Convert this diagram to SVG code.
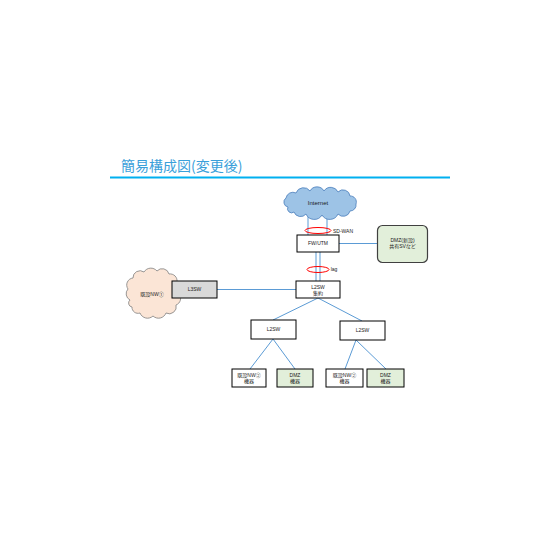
<svg xmlns="http://www.w3.org/2000/svg" width="560" height="560" viewBox="0 0 560 560">
<style>
.t{font-family:"Liberation Sans","Noto Sans CJK JP",sans-serif;font-size:5px;fill:#1a1a1a;text-anchor:middle}
.box{fill:#fff;stroke:#000;stroke-width:1}
.dmz{fill:#e2efda;stroke:#000;stroke-width:1}
.ln{stroke:#5b9bd5;stroke-width:1;fill:none}
.lag{fill:none;stroke:#ff0000;stroke-width:1}
</style>
<rect width="560" height="560" fill="#fff"/>
<text x="121" y="171" font-family="'Noto Sans CJK JP',sans-serif" font-size="14" fill="#3aa0da">簡易構成図(変更後)</text>
<line x1="110" y1="177.5" x2="450" y2="177.5" stroke="#00b0f0" stroke-width="2"/>

<g id="connectors">
<line class="ln" x1="308" y1="213" x2="308" y2="236"/>
<line class="ln" x1="327" y1="213" x2="327" y2="236"/>
<line class="ln" x1="339" y1="243.5" x2="378" y2="243.5"/>
<line class="ln" x1="316" y1="252" x2="316" y2="282"/>
<line class="ln" x1="320" y1="252" x2="320" y2="282"/>
<line class="ln" x1="217" y1="289.5" x2="296" y2="289.5"/>
<line class="ln" x1="318" y1="298" x2="273" y2="320"/>
<line class="ln" x1="318" y1="298" x2="362" y2="321"/>
<line class="ln" x1="273" y1="339" x2="250" y2="369"/>
<line class="ln" x1="273" y1="339" x2="295" y2="369"/>
<line class="ln" x1="356" y1="340" x2="345" y2="369"/>
<line class="ln" x1="356" y1="340" x2="386" y2="369"/>
</g>

<g id="internet">
<path d="M288,207 A5,5 0 0 1 286,198 A7,7 0 0 1 296,193 A8,8 0 0 1 310,191 A8,8 0 0 1 324,191 A8,8 0 0 1 338,192 A7,7 0 0 1 350,196 A6,6 0 0 1 356,204 A6,6 0 0 1 350,211 A7,7 0 0 1 338,214 A9,9 0 0 1 322,215 A9,9 0 0 1 306,214 A7,7 0 0 1 294,212 A4,4 0 0 1 288,207 Z" fill="#9dc3e6" stroke="#4a7ebb" stroke-width="0.8"/>
<text class="t" x="318" y="205" style="font-size:6px">Internet</text>
</g>

<g id="sdwan">
<ellipse class="lag" cx="318" cy="230.5" rx="13" ry="3"/>
<text class="t" x="343" y="232.5">SD-WAN</text>
</g>

<g id="fwutm">
<rect class="box" x="297" y="235" width="42" height="17"/>
<text class="t" x="318" y="245">FW/UTM</text>
</g>

<g id="dmz-new">
<rect x="377.5" y="225.5" width="50" height="37" rx="5" fill="#e2efda" stroke="#404040" stroke-width="1.2"/>
<text class="t" x="402.5" y="242">DMZ(新設)</text>
<text class="t" x="402.5" y="248">共有SVなど</text>
</g>

<g id="lagmark">
<ellipse class="lag" cx="318" cy="269.5" rx="11" ry="3"/>
<text class="t" x="334" y="271">lag</text>
</g>

<g id="l2sw-core">
<rect class="box" x="296" y="281" width="44" height="17"/>
<text class="t" x="318" y="288.5">L2SW</text>
<text class="t" x="318" y="295">集約</text>
</g>

<g id="nw1">
<path d="M130,300 A7,7 0 0 1 128,289 A7,7 0 0 1 133,278 A7,7 0 0 1 144,272 A8,8 0 0 1 157,271 A7,7 0 0 1 169,274 A7,7 0 0 1 177,282 A7,7 0 0 1 179,294 A7,7 0 0 1 176,305 A7,7 0 0 1 166,313 A8,8 0 0 1 153,316 A8,8 0 0 1 140,313 A6,6 0 0 1 132,307 A4,4 0 0 1 130,300 Z" fill="#fbe5d6" stroke="#7f7f7f" stroke-width="0.8"/>
<text class="t" x="152" y="295.5">既設NW①</text>
</g>

<g id="l3sw">
<rect x="172" y="281" width="45" height="17" fill="#d9d9d9" stroke="#000" stroke-width="1"/>
<text class="t" x="194.5" y="291">L3SW</text>
</g>

<g id="l2sw-left">
<rect class="box" x="251" y="320" width="45" height="19"/>
<text class="t" x="273.5" y="331">L2SW</text>
</g>

<g id="l2sw-right">
<rect class="box" x="340" y="321" width="45" height="19"/>
<text class="t" x="362.5" y="332">L2SW</text>
</g>

<g id="nw2-left">
<rect class="box" x="232" y="369" width="34" height="18"/>
<text class="t" x="249" y="377">既設NW②</text>
<text class="t" x="249" y="383">機器</text>
</g>

<g id="dmz-left">
<rect class="dmz" x="277" y="369" width="36" height="18"/>
<text class="t" x="295" y="377">DMZ</text>
<text class="t" x="295" y="383">機器</text>
</g>

<g id="nw2-right">
<rect class="box" x="326" y="369" width="37" height="18"/>
<text class="t" x="344.5" y="377">既設NW②</text>
<text class="t" x="344.5" y="383">機器</text>
</g>

<g id="dmz-right">
<rect class="dmz" x="367" y="369" width="37" height="18"/>
<text class="t" x="385.5" y="377">DMZ</text>
<text class="t" x="385.5" y="383">機器</text>
</g>
</svg>
